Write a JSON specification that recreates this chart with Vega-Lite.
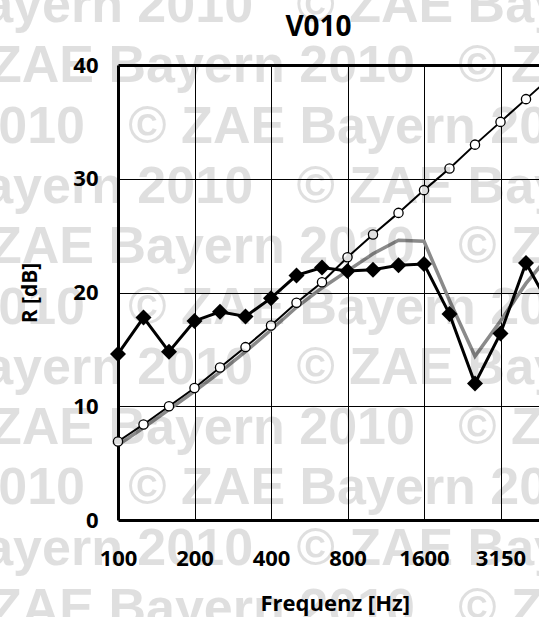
{
  "$schema": "https://vega.github.io/schema/vega-lite/v6.json",
  "width": 421,
  "height": 455,
  "autosize": {"type": "none"},
  "padding": {"left": 118, "top": 65, "right": 0, "bottom": 97},
  "title": {"text": "V010", "fontSize": 28, "font": "Open Sans", "fontWeight": "bold", "color": "black", "anchor": "middle", "baseline": "alphabetic", "offset": -84, "dx": -10},
  "config": {"view": {"stroke": null}, "font": "Open Sans"},
  "datasets": {
    "curves": [
      {"f": 100, "s": "Messung", "R": 14.6}, {"f": 125, "s": "Messung", "R": 17.8}, {"f": 160, "s": "Messung", "R": 14.8},
      {"f": 200, "s": "Messung", "R": 17.5}, {"f": 250, "s": "Messung", "R": 18.3}, {"f": 315, "s": "Messung", "R": 17.9},
      {"f": 400, "s": "Messung", "R": 19.5}, {"f": 500, "s": "Messung", "R": 21.5}, {"f": 630, "s": "Messung", "R": 22.2},
      {"f": 800, "s": "Messung", "R": 21.9}, {"f": 1000, "s": "Messung", "R": 22.0}, {"f": 1250, "s": "Messung", "R": 22.4},
      {"f": 1600, "s": "Messung", "R": 22.5}, {"f": 2000, "s": "Messung", "R": 18.1}, {"f": 2500, "s": "Messung", "R": 12.0},
      {"f": 3150, "s": "Messung", "R": 16.4}, {"f": 4000, "s": "Messung", "R": 22.6}, {"f": 5000, "s": "Messung", "R": 18.5},
      {"f": 100, "s": "Bezug", "R": 6.9}, {"f": 125, "s": "Bezug", "R": 8.4}, {"f": 160, "s": "Bezug", "R": 10.0},
      {"f": 200, "s": "Bezug", "R": 11.6}, {"f": 250, "s": "Bezug", "R": 13.4}, {"f": 315, "s": "Bezug", "R": 15.2},
      {"f": 400, "s": "Bezug", "R": 17.1}, {"f": 500, "s": "Bezug", "R": 19.1}, {"f": 630, "s": "Bezug", "R": 20.9},
      {"f": 800, "s": "Bezug", "R": 23.1}, {"f": 1000, "s": "Bezug", "R": 25.1}, {"f": 1250, "s": "Bezug", "R": 27.0},
      {"f": 1600, "s": "Bezug", "R": 29.0}, {"f": 2000, "s": "Bezug", "R": 30.9}, {"f": 2500, "s": "Bezug", "R": 33.0},
      {"f": 3150, "s": "Bezug", "R": 35.0}, {"f": 4000, "s": "Bezug", "R": 37.0}, {"f": 5000, "s": "Bezug", "R": 39.0},
      {"f": 100, "s": "Rechnung", "R": 6.6}, {"f": 125, "s": "Rechnung", "R": 8.1}, {"f": 160, "s": "Rechnung", "R": 9.7},
      {"f": 200, "s": "Rechnung", "R": 11.3}, {"f": 250, "s": "Rechnung", "R": 13.0}, {"f": 315, "s": "Rechnung", "R": 14.8},
      {"f": 400, "s": "Rechnung", "R": 16.7}, {"f": 500, "s": "Rechnung", "R": 18.7}, {"f": 630, "s": "Rechnung", "R": 20.4},
      {"f": 800, "s": "Rechnung", "R": 21.9}, {"f": 1000, "s": "Rechnung", "R": 23.4}, {"f": 1250, "s": "Rechnung", "R": 24.6},
      {"f": 1600, "s": "Rechnung", "R": 24.5}, {"f": 2000, "s": "Rechnung", "R": 19.3}, {"f": 2500, "s": "Rechnung", "R": 14.4},
      {"f": 3150, "s": "Rechnung", "R": 17.5}, {"f": 4000, "s": "Rechnung", "R": 20.8}, {"f": 5000, "s": "Rechnung", "R": 23.5}
    ],
    "watermark": [
      {"row": 0, "text": "yern 2010\u00a0\u00a0\u00a0© ZAE Bayern 2010\u00a0\u00a0\u00a0© ZAE Bayern 2010\u00a0\u00a0\u00a0© ZAE Bayern"},
      {"row": 1, "text": "ZAE Bayern 2010\u00a0\u00a0\u00a0© ZAE B"},
      {"row": 2, "text": "ZAE Bayern 2010\u00a0\u00a0\u00a0© ZAE Bayern 2010\u00a0\u00a0\u00a0© ZAE Bayern\u00a0"},
      {"row": 3, "text": "yern 2010\u00a0\u00a0\u00a0© ZAE Bayern 2010\u00a0\u00a0\u00a0© ZAE Bayern 2010\u00a0\u00a0\u00a0© ZAE Bayern"},
      {"row": 4, "text": "ZAE Bayern 2010\u00a0\u00a0\u00a0© ZAE B"},
      {"row": 5, "text": "ZAE Bayern 2010\u00a0\u00a0\u00a0© ZAE Bayern 2010\u00a0\u00a0\u00a0© ZAE Bayern\u00a0"},
      {"row": 6, "text": "yern 2010\u00a0\u00a0\u00a0© ZAE Bayern 2010\u00a0\u00a0\u00a0© ZAE Bayern 2010\u00a0\u00a0\u00a0© ZAE Bayern"},
      {"row": 7, "text": "ZAE Bayern 2010\u00a0\u00a0\u00a0© ZAE B"},
      {"row": 8, "text": "ZAE Bayern 2010\u00a0\u00a0\u00a0© ZAE Bayern 2010\u00a0\u00a0\u00a0© ZAE Bayern\u00a0"},
      {"row": 9, "text": "yern 2010\u00a0\u00a0\u00a0© ZAE Bayern 2010\u00a0\u00a0\u00a0© ZAE Bayern 2010\u00a0\u00a0\u00a0© ZAE Bayern"},
      {"row": 10, "text": "ZAE Bayern 2010\u00a0\u00a0\u00a0© ZAE B"}
    ]
  },
  "layer": [
    {
      "data": {"name": "curves"},
      "encoding": {
        "x": {
          "field": "f", "type": "ordinal",
          "scale": {"type": "point", "domain": [100, 125, 160, 200, 250, 315, 400, 500, 630, 800, 1000, 1250, 1600, 2000, 2500, 3150, 4000, 5000], "range": [0, 433.5], "padding": 0},
          "axis": {
            "values": [100, 200, 400, 800, 1600, 3150],
            "title": "Frequenz [Hz]", "titleFontSize": 22, "titleFontWeight": "bold", "titleColor": "black", "titlePadding": 24,
            "labelAngle": 0, "labelFontSize": 22, "labelFontWeight": "bold", "labelColor": "black", "labelPadding": 28,
            "ticks": false, "domain": false,
            "grid": true, "gridColor": "black", "gridOpacity": 1,
            "gridWidth": {"condition": {"test": "datum.value === 100", "value": 3}, "value": 1}
          }
        },
        "y": {
          "field": "R", "type": "quantitative",
          "scale": {"domain": [0, 40], "nice": false, "zero": true},
          "axis": {
            "values": [0, 10, 20, 30, 40],
            "title": "R [dB]", "titleFontSize": 21, "titleFontWeight": "bold", "titleColor": "black", "titlePadding": 32,
            "labelFontSize": 22, "labelFontWeight": "bold", "labelColor": "black", "labelPadding": 20,
            "ticks": false, "domain": false,
            "grid": true, "gridColor": "black", "gridOpacity": 1,
            "gridWidth": {"condition": {"test": "datum.value === 0 || datum.value === 40", "value": 3}, "value": 1}
          }
        }
      },
      "layer": [
        {"transform": [{"filter": "datum.s === 'Rechnung'"}], "mark": {"type": "line", "color": "#8a8a8a", "strokeWidth": 3.5}},
        {"transform": [{"filter": "datum.s === 'Bezug'"}], "mark": {"type": "line", "color": "black", "strokeWidth": 2}},
        {"transform": [{"filter": "datum.s === 'Messung'"}], "mark": {"type": "line", "color": "black", "strokeWidth": 3}},
        {"transform": [{"filter": "datum.s === 'Messung'"}], "mark": {"type": "point", "shape": "diamond", "filled": true, "color": "black", "size": 256, "opacity": 1}},
        {"transform": [{"filter": "datum.s === 'Bezug'"}], "mark": {"type": "point", "shape": "circle", "filled": true, "fill": "white", "stroke": "black", "strokeWidth": 1.3, "size": 85, "opacity": 1}}
      ]
    },
    {
      "data": {"name": "watermark"},
      "mark": {"type": "text", "font": "Liberation Sans", "fontWeight": "bold", "fontSize": 52, "color": "black", "opacity": 0.12, "align": "center", "baseline": "alphabetic"},
      "encoding": {
        "y": {"field": "row", "type": "quantitative", "scale": {"domain": [0, 10], "range": [-43, 560]}, "axis": null},
        "text": {"field": "text"}
      }
    }
  ],
  "resolve": {"scale": {"y": "independent"}}
}
